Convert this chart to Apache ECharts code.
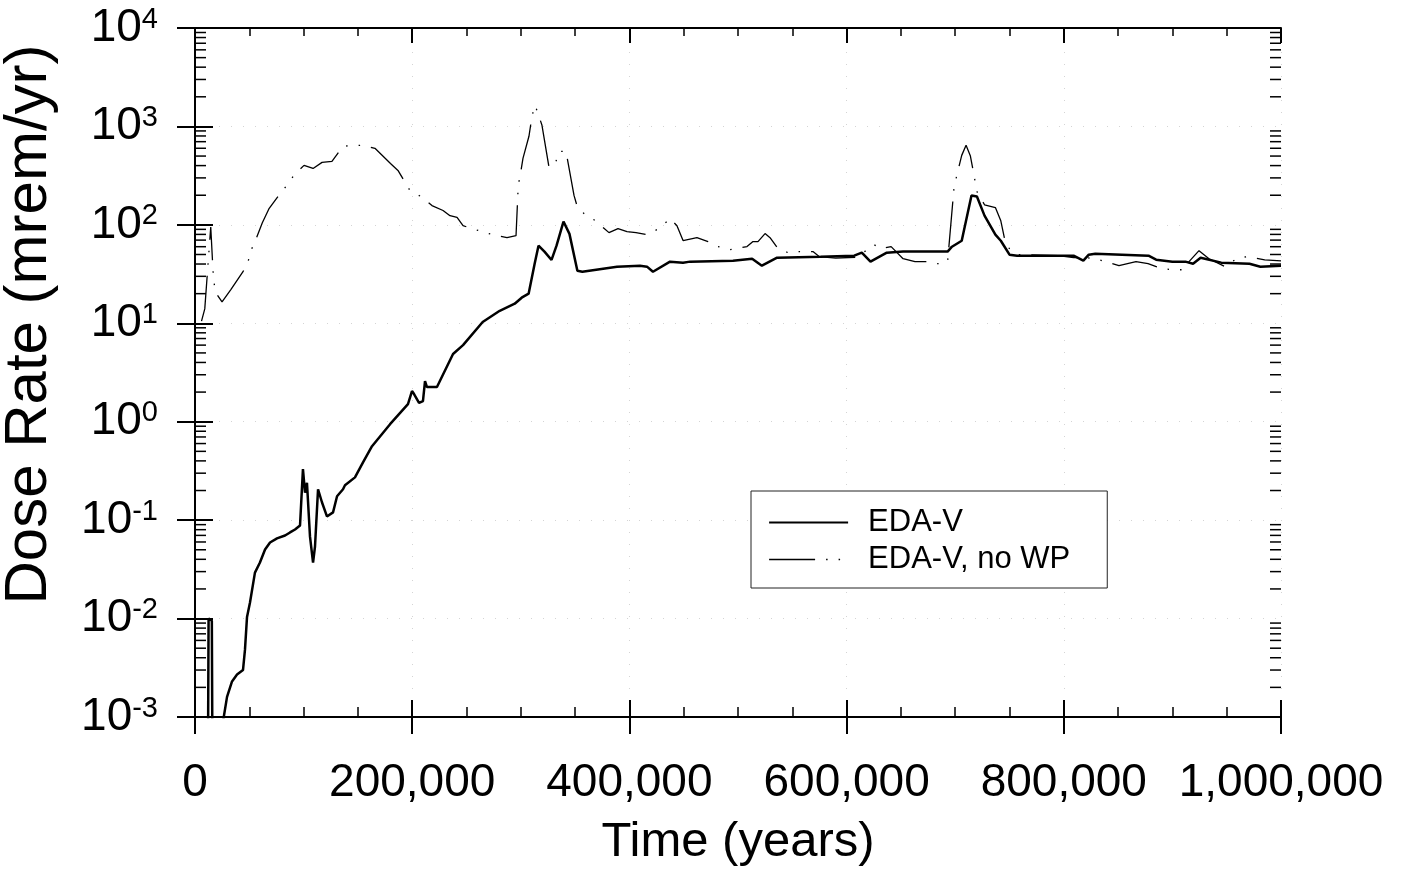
<!DOCTYPE html>
<html>
<head>
<meta charset="utf-8">
<script src="https://cdn.jsdelivr.net/npm/echarts@6/dist/echarts.min.js"></script>
<style>
  html, body { margin: 0; padding: 0; background: #fff; }
  #chart { width: 1402px; height: 873px; }
</style>
</head>
<body>
<div id="chart"></div>
<script>
// EDA-V dose rate
var edaTime = [12000, 12500, 15500, 16000, 25800, 29500, 34100, 38700, 44200, 46000,
  47900, 50600, 55200, 59800, 64500, 69100, 75500, 82900, 87500, 92100,
  96700, 99400, 101300, 103100, 105900, 108700, 110500, 113300, 116900, 121500,
  127100, 130800, 136300, 138100, 147300, 154700, 163000, 179600, 196100, 199800,
  201700, 206300, 209900, 211800, 213600, 222800, 237600, 246800, 264900, 280600,
  294400, 300800, 307200, 312700, 316300, 321800, 328300, 332900, 339300, 344800,
  352100, 356700, 388600, 409800, 416200, 421700, 437400, 449400, 455800, 495400,
  513000, 522000, 536000, 576000, 607000, 614000, 622000, 637000, 652000, 693000,
  697000, 706000, 715000, 720000, 727000, 737000, 742000, 750000, 757000, 795000,
  809000, 818000, 823000, 829000, 878000, 885000, 900000, 912000, 919000, 926000,
  945000, 971000, 981000, 1000000];
var edaDose = [0.0005, 0.01, 0.0095, 0.0005, 0.0009, 0.0016, 0.0023, 0.0027, 0.003, 0.0048,
  0.0104, 0.0145, 0.0293, 0.0371, 0.0503, 0.0593, 0.0652, 0.0698, 0.075, 0.0804,
  0.0883, 0.33, 0.19, 0.24, 0.068, 0.037, 0.054, 0.206, 0.152, 0.109,
  0.12, 0.175, 0.206, 0.226, 0.272, 0.387, 0.564, 0.944, 1.51, 2.05,
  1.91, 1.55, 1.62, 2.59, 2.25, 2.25, 4.88, 6.0, 10.3, 13.4,
  15.8, 18.2, 20, 40, 61.5, 53.5, 44, 61.5, 108, 81,
  34.2, 33.4, 37.6, 38.5, 37.6, 33.4, 42.3, 41.3, 42.3, 43.3,
  45.3, 38.5, 46.4, 47.5, 48.6, 52.2, 42.3, 52.2, 53.5, 53.5,
  60, 69, 199, 194, 124, 79.6, 69, 49.8, 48.6, 48.6,
  48.6, 43.3, 49.8, 51, 48.6, 44.3, 42.3, 42.3, 40.3, 46.4,
  41.3, 40.3, 37.6, 38.5];

// EDA-V, no WP
var noWpTime = [6000, 9000, 12000, 14500, 16600, 18400, 24900, 33000, 44200, 48800,
  51600, 56200, 62000, 68000, 76400, 84400, 91700, 100400, 108700, 117000,
  126100, 136300, 145500, 154700, 165700, 180000, 186900, 198000, 208000, 218200,
  228400, 234800, 241300, 246800, 267000, 278100, 287300, 295600, 297400, 298500,
  300200, 302000, 307500, 310300, 313100, 315800, 319500, 326000, 329000, 332400,
  335200, 341600, 349000, 351700, 359100, 368300, 381200, 389500, 397800, 406100,
  416200, 425400, 434600, 437400, 443800, 449400, 462200, 472400, 481600, 492600,
  508300, 513800, 518400, 524900, 529500, 536800, 546000, 555200, 569000, 575000,
  590000, 610000, 625000, 632000, 641000, 652000, 663000, 675000, 684000, 693000,
  699000, 706000, 710000, 714000, 717000, 720000, 727000, 737000, 742000, 746000,
  751000, 759000, 795000, 809000, 818000, 830000, 850800, 866500, 877600, 890400,
  901500, 911600, 915300, 924500, 933700, 948400, 960400, 969600, 985000, 1000000];
var noWpDose = [10.5, 14, 40, 95, 34, 21, 16.5, 22, 33.4, 42,
  55, 72, 105, 145, 194, 251, 325, 402, 374, 431,
  442, 628, 643, 643, 599, 420, 357, 223, 194, 157,
  140, 124, 119, 98, 83.4, 77.6, 74.1, 77.6, 218, 282,
  357, 473, 794, 1268, 1641, 1361, 1027, 384, 400, 442,
  558, 558, 199, 157, 127, 111, 83.4, 91.6, 85.4, 83.4,
  79.6, 89.5, 108, 116, 98, 69.2, 74.1, 67.6, 60.1, 56,
  60.1, 67.6, 67.6, 81.5, 74.1, 57.3, 52.2, 53.5, 53.5, 47.5,
  46, 47, 63, 57.3, 60.1, 45.3, 42.3, 42.3, 40.3, 42.3,
  245, 508, 643, 500, 333, 218, 160, 150, 110, 67.6,
  54.7, 49.8, 48.6, 46.4, 47, 45, 38.5, 42.3, 40.3, 35.9,
  35, 35, 42.3, 54.7, 45.3, 37.6, 46.4, 47.5, 44, 43];

var seriesNames = ['EDA-V', 'EDA-V, no WP'];
var decades = [-3, -2, -1, 0, 1, 2, 3];
var minorSteps = [2, 3, 4, 5, 6, 7, 8, 9];

function zip(a, b) {
  return a.map(function (t, i) { return [t, b[i]]; });
}

var minorVals = [];
decades.forEach(function (k) {
  minorSteps.forEach(function (m) { minorVals.push([0, m * Math.pow(10, k)]); });
});

var FONT = '"Liberation Sans", Arial, Helvetica, sans-serif';
var gridBox = { left: 195, right: 121, top: 28, bottom: 156, containLabel: false, outerBoundsMode: 'none' };
var noWpDash = [46, 11, 1.5, 11, 1.5, 11];

var chart = echarts.init(document.getElementById('chart'));

var option = {
  animation: false,
  backgroundColor: '#fff',
  textStyle: { fontFamily: FONT, color: '#000' },
  grid: [
    Object.assign({}, gridBox),
    Object.assign({}, gridBox)
  ],
  legend: {
    data: [
      { name: seriesNames[0], lineStyle: { width: 2.2, color: '#000' } },
      { name: seriesNames[1], lineStyle: { width: 1.3, color: '#000', type: noWpDash } }
    ],
    orient: 'vertical',
    left: 751,
    top: 491,
    padding: [16, 37, 13, 17],
    itemWidth: 79,
    itemHeight: 2,
    itemGap: 6,
    itemStyle: { color: 'transparent', borderWidth: 0 },
    borderColor: '#222',
    borderWidth: 1,
    borderRadius: 0,
    backgroundColor: '#fff',
    textStyle: { fontSize: 31, lineHeight: 31, color: '#000', fontFamily: FONT, padding: [0, 0, 0, 15] }
  },
  xAxis: [
    {
      gridIndex: 0, type: 'value', position: 'bottom',
      min: 0, max: 1000000, interval: 200000,
      axisLine: { lineStyle: { color: '#000', width: 2 } },
      axisTick: { inside: false, length: 17, lineStyle: { color: '#000', width: 2 } },
      axisLabel: {
        fontSize: 46, margin: 43, color: '#000', fontFamily: FONT,
        showMinLabel: true, showMaxLabel: true,
        formatter: function (v) { return v.toLocaleString('en-US'); }
      },
      splitLine: { show: true, lineStyle: { color: '#d4d4d4', width: 1, type: [1, 11] } },
      name: 'Time (years)', nameLocation: 'middle', nameGap: 101,
      nameTextStyle: { fontSize: 49, color: '#000', fontFamily: FONT }
    },
    {
      gridIndex: 0, type: 'value', position: 'top',
      min: 0, max: 1000000, interval: 200000,
      axisLine: { lineStyle: { color: '#000', width: 2 } },
      axisTick: { inside: true, length: 15, lineStyle: { color: '#000', width: 2 } },
      minorTick: { show: true, splitNumber: 4, length: 8, lineStyle: { color: '#000', width: 1.5 } },
      axisLabel: { show: false },
      splitLine: { show: false }
    },
    {
      gridIndex: 1, type: 'value', position: 'bottom',
      min: 0, max: 1000000, interval: 200000,
      axisLine: { show: false },
      axisTick: { inside: true, length: 17, lineStyle: { color: '#000', width: 2 } },
      minorTick: { show: true, splitNumber: 4, length: 10, lineStyle: { color: '#000', width: 1.5 } },
      axisLabel: { show: false },
      splitLine: { show: false }
    }
  ],
  yAxis: [
    {
      gridIndex: 0, type: 'log', logBase: 10, position: 'left',
      min: 0.001, max: 10000, splitNumber: 7,
      axisLine: { show: true, lineStyle: { color: '#000', width: 2 } },
      axisTick: { show: true, inside: false, length: 13, lineStyle: { color: '#000', width: 2 } },
      axisLabel: {
        margin: 37, color: '#000',
        formatter: function (v) {
          var e = Math.round(Math.log10(v));
          return '{b|10}{s|' + e + '}';
        },
        rich: {
          b: { fontSize: 46, lineHeight: 46, fontFamily: FONT, color: '#000' },
          s: { fontSize: 29, lineHeight: 29, fontFamily: FONT, color: '#000', verticalAlign: 'top' }
        }
      },
      splitLine: { show: true, lineStyle: { color: '#d4d4d4', width: 1, type: [1, 11] } },
      name: 'Dose Rate (mrem/yr)', nameLocation: 'middle', nameGap: 136, nameRotate: 90,
      nameTextStyle: { fontSize: 60, color: '#000', fontFamily: FONT, padding: [0, 0, 0, 96] }
    },
    {
      gridIndex: 0, type: 'log', logBase: 10, position: 'right',
      min: 0.001, max: 10000, splitNumber: 7,
      axisLine: { show: true, lineStyle: { color: '#000', width: 2 } },
      axisTick: { show: true, inside: true, length: 18, lineStyle: { color: '#000', width: 2 } },
      axisLabel: { show: false },
      splitLine: { show: false }
    },
    {
      gridIndex: 1, type: 'log', logBase: 10, position: 'left',
      min: 0.001, max: 10000, splitNumber: 7,
      axisLine: { show: false },
      axisTick: { show: true, inside: true, length: 18, lineStyle: { color: '#000', width: 2 } },
      axisLabel: { show: false },
      splitLine: { show: false }
    }
  ],
  series: [
    {
      name: seriesNames[0], type: 'line', xAxisIndex: 0, yAxisIndex: 0,
      data: zip(edaTime, edaDose),
      showSymbol: false, symbol: 'none', smooth: false,
      lineStyle: { color: '#000', width: 2.5 },
      itemStyle: { color: '#000' },
      z: 3
    },
    {
      name: seriesNames[1], type: 'line', xAxisIndex: 0, yAxisIndex: 0,
      data: zip(noWpTime, noWpDose),
      showSymbol: false, symbol: 'none', smooth: false,
      lineStyle: { color: '#000', width: 1.3, type: noWpDash },
      itemStyle: { color: '#000' },
      z: 2
    },
    {
      // log minor ticks on the left and right frame edges
      type: 'custom', xAxisIndex: 0, yAxisIndex: 0, silent: true, clip: false,
      data: minorVals,
      renderItem: function (params, api) {
        var v = api.value(1);
        var pL = api.coord([0, v]);
        var pR = api.coord([1000000, v]);
        var st = { stroke: '#000', lineWidth: 1.5 };
        return {
          type: 'group',
          children: [
            { type: 'line', shape: { x1: pL[0], y1: pL[1], x2: pL[0] + 11, y2: pL[1] }, style: st },
            { type: 'line', shape: { x1: pR[0] - 11, y1: pR[1], x2: pR[0], y2: pR[1] }, style: st }
          ]
        };
      },
      z: 4
    }
  ]
};

chart.setOption(option);
</script>
</body>
</html>
